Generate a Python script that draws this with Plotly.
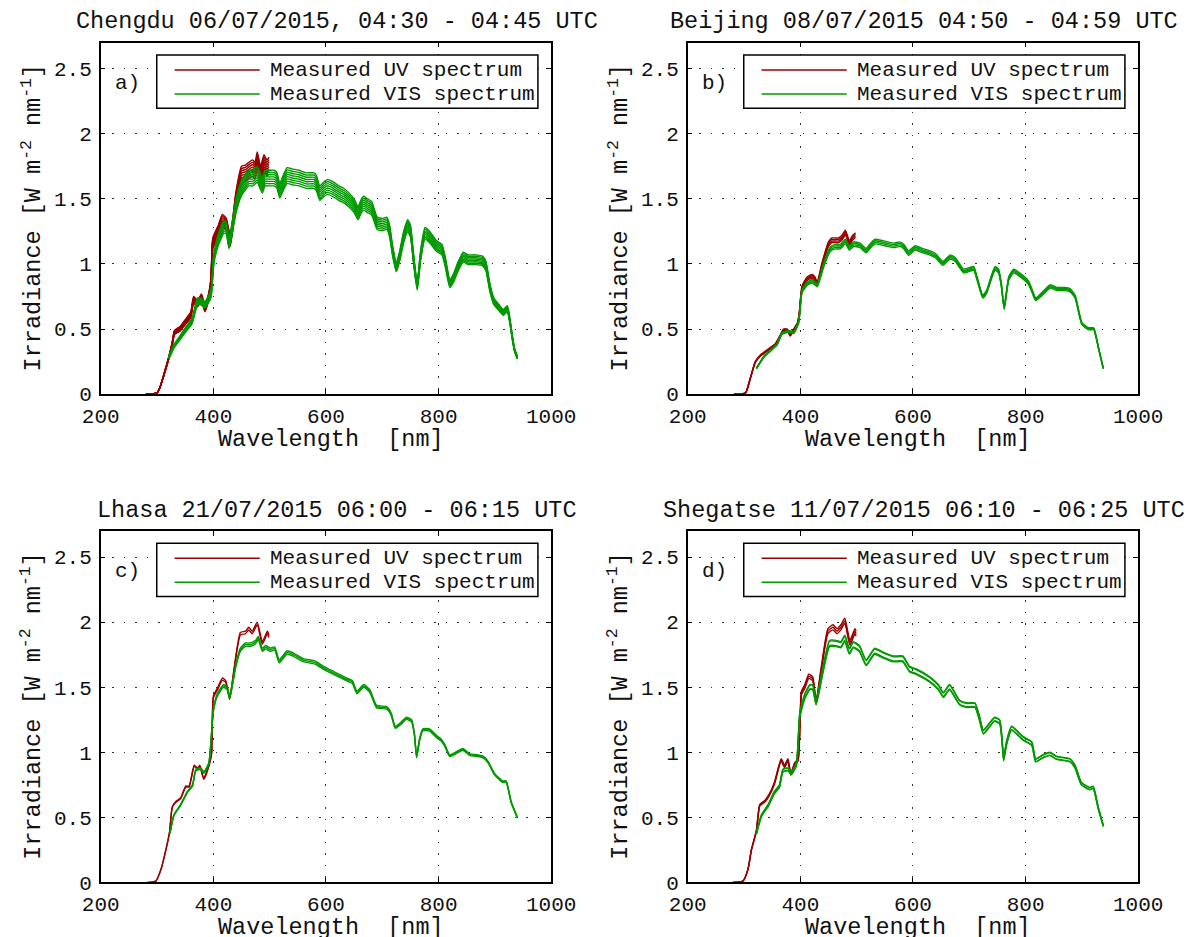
import plotly.graph_objects as go

# ------------------------------------------------------------------
# Data (wavelength in nm, irradiance in W m^-2 nm^-1)
# ------------------------------------------------------------------
# a) Chengdu
chengdu_uv_wl = [280, 290, 300, 305, 312, 321, 327, 331, 341, 348, 355, 360, 365, 372, 379, 385, 392, 396,
                 399, 409, 416, 423, 430, 440, 450, 457, 463, 470, 474, 478, 484, 490, 495, 499]
chengdu_uv_irr = [0.0, 0.0, 0.01, 0.05, 0.15, 0.29, 0.40, 0.49, 0.52, 0.56, 0.60, 0.63, 0.75, 0.72, 0.77, 0.68,
                  0.78, 0.90, 1.20, 1.30, 1.38, 1.35, 1.22, 1.55, 1.75, 1.76, 1.78, 1.80, 1.78, 1.86, 1.75,
                  1.84, 1.80, 1.82]
chengdu_vis_wl = [321, 330, 341, 352, 362, 368, 372, 380, 385, 392, 396, 401, 409, 419, 423, 428, 440, 450,
                  463, 470, 478, 483, 487, 492, 500, 508, 513, 518, 524, 531, 540, 552, 565, 579, 583, 589,
                  596, 603, 613, 623, 632, 640, 650, 657, 663, 667, 674, 681, 686, 691, 700, 708, 713, 718,
                  725, 731, 738, 745, 750, 755, 762, 768, 776, 786, 796, 806, 812, 820, 826, 835, 844, 852,
                  865, 878, 884, 891, 898, 907, 915, 922, 926, 931, 935, 940]
chengdu_vis_irr = [0.29, 0.38, 0.45, 0.52, 0.58, 0.68, 0.74, 0.73, 0.71, 0.76, 0.80, 1.08, 1.23, 1.33, 1.32,
                   1.20, 1.49, 1.64, 1.72, 1.72, 1.75, 1.70, 1.66, 1.72, 1.72, 1.72, 1.70, 1.62, 1.68, 1.74,
                   1.73, 1.72, 1.70, 1.70, 1.68, 1.60, 1.63, 1.65, 1.63, 1.60, 1.58, 1.55, 1.50, 1.44, 1.50,
                   1.52, 1.50, 1.48, 1.42, 1.36, 1.35, 1.36, 1.30, 1.15, 1.01, 1.10, 1.25, 1.34, 1.30, 1.10,
                   0.86, 1.10, 1.28, 1.24, 1.18, 1.15, 1.05, 0.88, 0.92, 1.02, 1.09, 1.07, 1.07, 1.06, 1.02,
                   0.85, 0.74, 0.69, 0.65, 0.68, 0.60, 0.45, 0.35, 0.29]
chengdu_uv_scan_scale = [1.0, 0.99, 0.98, 0.97, 0.96, 0.95, 0.94, 0.93]
chengdu_vis_scan_scale = [1.0, 0.99, 0.98, 0.97, 0.96, 0.95, 0.94, 0.93]

# b) Beijing
beijing_uv_wl = [282, 295, 303, 311, 320, 329, 338, 347, 356, 365, 370, 377, 382, 388, 395, 398, 403, 412,
                 421, 426, 430, 438, 450, 456, 462, 468, 474, 480, 487, 493, 498]
beijing_uv_irr = [0.0, 0.0, 0.01, 0.12, 0.25, 0.30, 0.33, 0.36, 0.39, 0.46, 0.50, 0.50, 0.46, 0.50, 0.55,
                  0.62, 0.83, 0.90, 0.92, 0.90, 0.86, 1.00, 1.17, 1.20, 1.20, 1.20, 1.22, 1.26, 1.18, 1.22, 1.24]
beijing_vis_wl = [322, 335, 347, 359, 367, 379, 388, 397, 403, 412, 421, 430, 441, 453, 462, 471, 480, 487,
                  495, 506, 517, 525, 533, 545, 555, 566, 577, 584, 592, 604, 616, 631, 640, 653, 666, 675,
                  683, 690, 699, 708, 714, 724, 731, 740, 746, 752, 757, 762, 770, 779, 790, 805, 812, 818,
                  829, 844, 856, 870, 879, 888, 900, 912, 921, 925, 930, 938]
beijing_vis_irr = [0.20, 0.29, 0.34, 0.39, 0.47, 0.49, 0.48, 0.56, 0.80, 0.86, 0.88, 0.85, 1.00, 1.13, 1.15,
                   1.15, 1.19, 1.14, 1.17, 1.16, 1.12, 1.16, 1.19, 1.18, 1.17, 1.16, 1.17, 1.15, 1.10, 1.14,
                   1.12, 1.10, 1.08, 1.02, 1.07, 1.05, 1.00, 0.96, 0.97, 0.98, 0.90, 0.76, 0.80, 0.92, 0.98,
                   0.96, 0.85, 0.67, 0.90, 0.96, 0.93, 0.87, 0.80, 0.74, 0.78, 0.84, 0.82, 0.82, 0.81, 0.76,
                   0.55, 0.51, 0.51, 0.45, 0.35, 0.20]
beijing_uv_scan_scale = [1.0, 0.99, 0.98, 0.97]
beijing_vis_scan_scale = [1.0, 0.99, 0.98, 0.97]

# c) Lhasa
lhasa_uv_wl = [283, 298, 307, 313, 322, 327, 333, 342, 351, 357, 366, 372, 376, 383, 392, 397, 400, 408, 416,
               422, 429, 437, 448, 457, 463, 469, 478, 487, 496, 499]
lhasa_uv_irr = [0.0, 0.01, 0.10, 0.20, 0.38, 0.58, 0.62, 0.65, 0.74, 0.74, 0.90, 0.88, 0.90, 0.80, 0.90,
                1.00, 1.43, 1.50, 1.57, 1.55, 1.42, 1.65, 1.92, 1.93, 1.96, 1.93, 2.00, 1.85, 1.93, 1.90]
lhasa_vis_wl = [323, 330, 342, 354, 363, 369, 378, 383, 392, 400, 407, 418, 425, 429, 440, 448, 457, 466,
                475, 480, 487, 493, 501, 509, 517, 531, 543, 560, 581, 596, 614, 637, 647, 655, 667, 678,
                690, 708, 716, 723, 733, 743, 752, 757, 761, 766, 772, 784, 796, 805, 811, 820, 830, 843,
                855, 870, 879, 888, 899, 914, 920, 929, 940]
lhasa_vis_irr = [0.38, 0.52, 0.60, 0.70, 0.75, 0.87, 0.88, 0.85, 0.92, 1.33, 1.45, 1.52, 1.50, 1.43, 1.68,
                 1.80, 1.84, 1.84, 1.86, 1.89, 1.80, 1.82, 1.80, 1.81, 1.71, 1.78, 1.76, 1.72, 1.70, 1.66,
                 1.62, 1.57, 1.55, 1.47, 1.52, 1.48, 1.36, 1.35, 1.30, 1.20, 1.23, 1.27, 1.25, 1.15, 0.97,
                 1.10, 1.18, 1.18, 1.13, 1.10, 1.06, 0.98, 1.00, 1.03, 0.99, 0.98, 0.97, 0.93, 0.84, 0.78,
                 0.78, 0.62, 0.50]
lhasa_uv_scan_scale = [1.0, 0.99]
lhasa_vis_scan_scale = [1.0, 0.993, 0.986]

# d) Shegatse
shegatse_uv_wl = [280, 298, 307, 313, 322, 328, 337, 345, 354, 366, 372, 378, 383, 390, 396, 402, 408, 415,
                  422, 428, 437, 449, 458, 465, 472, 479, 488, 497, 499]
shegatse_uv_irr = [0.0, 0.01, 0.10, 0.25, 0.40, 0.60, 0.63, 0.68, 0.77, 0.95, 0.90, 0.95, 0.84, 0.92, 0.95,
                   1.47, 1.52, 1.60, 1.58, 1.40, 1.65, 1.95, 1.98, 1.95, 1.98, 2.03, 1.86, 1.95, 1.93]
shegatse_vis_wl = [322, 331, 343, 354, 363, 369, 378, 384, 393, 399, 408, 417, 422, 428, 440, 452, 464, 472,
                   479, 487, 494, 505, 517, 532, 547, 565, 582, 594, 606, 630, 645, 654, 665, 683, 697, 710,
                   718, 725, 735, 745, 754, 758, 761, 766, 775, 796, 811, 818, 830, 843, 855, 879, 888, 899,
                   914, 920, 929, 938]
shegatse_vis_irr = [0.38, 0.52, 0.60, 0.70, 0.75, 0.87, 0.88, 0.85, 0.92, 1.30, 1.45, 1.52, 1.52, 1.40, 1.65,
                    1.86, 1.86, 1.85, 1.90, 1.80, 1.85, 1.82, 1.71, 1.80, 1.77, 1.74, 1.74, 1.66, 1.64, 1.58,
                    1.52, 1.46, 1.52, 1.40, 1.38, 1.38, 1.28, 1.17, 1.22, 1.27, 1.25, 1.12, 0.96, 1.08, 1.20,
                    1.12, 1.08, 0.95, 0.98, 1.00, 0.97, 0.95, 0.90, 0.77, 0.73, 0.74, 0.58, 0.44]
shegatse_uv_scan_scale = [1.0, 0.99, 0.98]
shegatse_vis_scan_scale = [1.0, 0.996, 0.978, 0.974]

panel_titles = ["Chengdu 06/07/2015, 04:30 - 04:45 UTC",
                "Beijing 08/07/2015 04:50 - 04:59 UTC",
                "Lhasa 21/07/2015 06:00 - 06:15 UTC",
                "Shegatse 11/07/2015 06:10 - 06:25 UTC"]
panel_letters = ["a)", "b)", "c)", "d)"]
x_ticks = [200, 400, 600, 800, 1000]
y_ticks = [0, 0.5, 1, 1.5, 2, 2.5]
legend_labels = ["Measured UV spectrum", "Measured VIS spectrum"]

panels = [
    (chengdu_uv_wl, chengdu_uv_irr, chengdu_uv_scan_scale, chengdu_vis_wl, chengdu_vis_irr, chengdu_vis_scan_scale),
    (beijing_uv_wl, beijing_uv_irr, beijing_uv_scan_scale, beijing_vis_wl, beijing_vis_irr, beijing_vis_scan_scale),
    (lhasa_uv_wl, lhasa_uv_irr, lhasa_uv_scan_scale, lhasa_vis_wl, lhasa_vis_irr, lhasa_vis_scan_scale),
    (shegatse_uv_wl, shegatse_uv_irr, shegatse_uv_scan_scale, shegatse_vis_wl, shegatse_vis_irr, shegatse_vis_scan_scale),
]

# ------------------------------------------------------------------
# Layout geometry
# ------------------------------------------------------------------
W, H = 1197, 937
PW, PH = 450.5, 351.4
panel_pos = [(100.7, 42.7), (687.7, 42.7), (100.7, 531.0), (687.7, 531.0)]
FONT = "Liberation Mono"
TXT = "#111111"
UV_COLOR = "#990000"
VIS_COLOR = "#009900"

fig = go.Figure()
layout = dict(
    width=W, height=H,
    margin=dict(l=0, r=0, t=0, b=0, autoexpand=False),
    paper_bgcolor="white", plot_bgcolor="white",
    showlegend=False,
    font=dict(family=FONT, color=TXT, size=21),
)

annotations = []
shapes = []
LINE = dict(width=1.4, shape="spline", smoothing=0.5)

for i, (uwl, uirr, uscale, vwl, virr, vscale) in enumerate(panels):
    n = "" if i == 0 else str(i + 1)
    xa, ya = "x" + n, "y" + n
    l, t = panel_pos[i]
    xdom = [l / W, (l + PW) / W]
    ydom = [1 - (t + PH) / H, 1 - t / H]
    axcommon = dict(showline=True, linecolor="black", linewidth=1.5, mirror="ticks",
                    ticks="inside", ticklen=5, tickwidth=1, tickcolor="black",
                    showgrid=True, gridcolor="#333333", gridwidth=1, griddash="1.5px,10px",
                    zeroline=False, tickfont=dict(family=FONT, size=21, color=TXT),
                    automargin=False)
    layout["xaxis" + n] = dict(domain=xdom, anchor=ya, range=[200, 1000], tickvals=x_ticks,
                               ticklabelstandoff=2, **axcommon)
    layout["yaxis" + n] = dict(domain=ydom, anchor=xa, range=[0, 2.7], tickvals=y_ticks,
                               ticklabelstandoff=3, **axcommon)

    for s in uscale:
        fig.add_trace(go.Scatter(x=uwl, y=[v * s for v in uirr], mode="lines",
                                 line=dict(color=UV_COLOR, **LINE),
                                 xaxis=xa, yaxis=ya, hoverinfo="skip"))
    for s in vscale:
        fig.add_trace(go.Scatter(x=vwl, y=[v * s for v in virr], mode="lines",
                                 line=dict(color=VIS_COLOR, **LINE),
                                 xaxis=xa, yaxis=ya, hoverinfo="skip"))

    xd, yd = xa + " domain", ya + " domain"
    # legend box
    shapes.append(dict(type="rect", xref=xd, yref=yd, x0=0.1244, x1=0.9705, y0=0.8133, y1=0.965,
                       line=dict(color="black", width=1.5), fillcolor="white", layer="above"))
    for k, (ly, col) in enumerate([(0.9223, UV_COLOR), (0.854, VIS_COLOR)]):
        shapes.append(dict(type="line", xref=xd, yref=yd, x0=0.1639, x1=0.3531, y0=ly, y1=ly,
                           line=dict(color=col, width=1.4), layer="above"))
        annotations.append(dict(xref=xd, yref=yd, x=0.3715, y=ly, xanchor="left", yanchor="middle",
                                text=legend_labels[k], showarrow=False,
                                font=dict(family=FONT, size=21, color=TXT)))
    # panel letter
    annotations.append(dict(xref=xd, yref=yd, x=0.0273, y=0.8853, xanchor="left", yanchor="middle",
                            text=panel_letters[i], showarrow=False,
                            font=dict(family=FONT, size=21, color=TXT)))
    # title
    annotations.append(dict(xref="paper", yref="paper", x=(l + PW / 2 + 11) / W, y=1 - (t - 21) / H,
                            xanchor="center", yanchor="middle", text=panel_titles[i], showarrow=False,
                            font=dict(family=FONT, size=23.5, color=TXT)))
    # x label
    annotations.append(dict(xref="paper", yref="paper", x=(l + PW / 2 + 5) / W, y=1 - (t + 396.5) / H,
                            xanchor="center", yanchor="middle", text="Wavelength  [nm]", showarrow=False,
                            font=dict(family=FONT, size=23.5, color=TXT)))
    # y label
    annotations.append(dict(xref="paper", yref="paper", x=(l - 68.7) / W, y=1 - (t + PH / 2) / H,
                            xanchor="center", yanchor="middle", textangle=-90,
                            text="Irradiance [W m<sup>-2</sup> nm<sup>-1</sup>]", showarrow=False,
                            font=dict(family=FONT, size=23.5, color=TXT)))

layout["annotations"] = annotations
layout["shapes"] = shapes
fig.update_layout(**layout)
fig.write_html("out.html")
